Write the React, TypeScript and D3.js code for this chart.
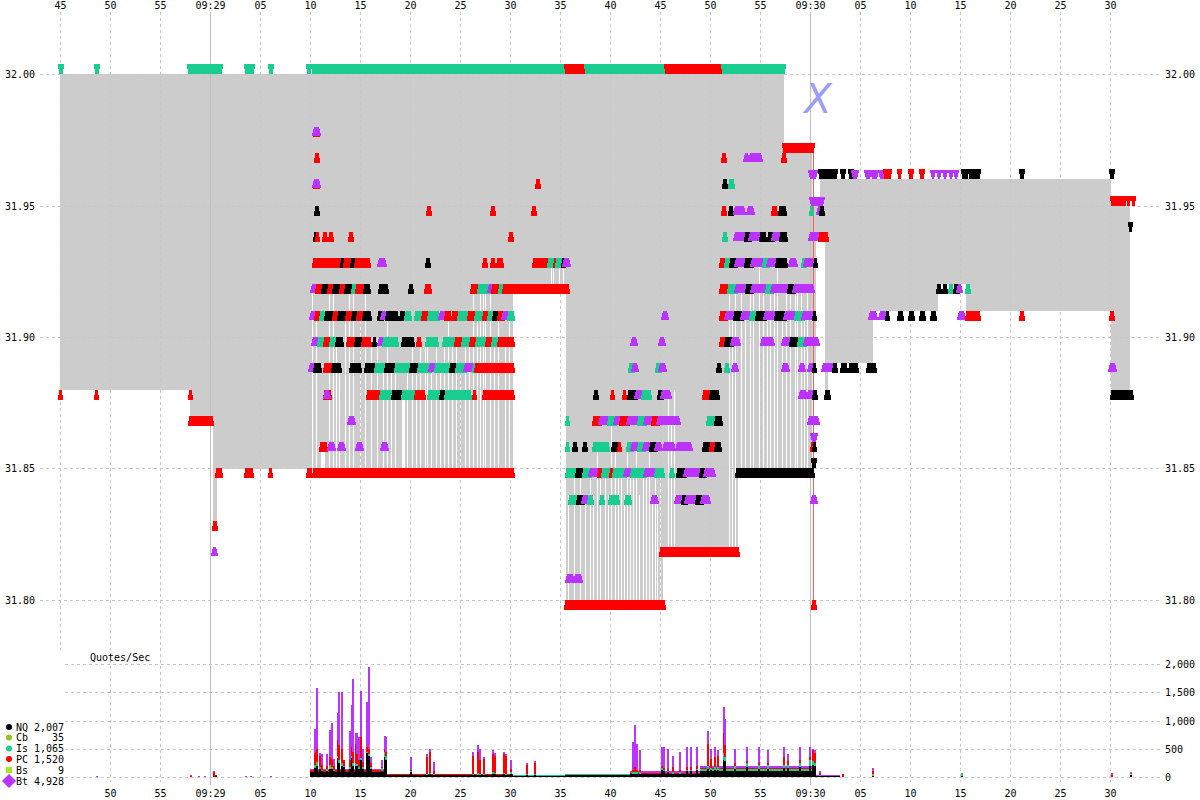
import React from "react";
import * as d3 from "d3";

type Run = [number, number, number, string];

// ---------- static data ----------
const exColors: Record<string, string> = {
  NQ: "#000000",
  Cb: "#94c11f",
  Is: "#19cc8f",
  PC: "#ff0000",
  Bs: "#a8e61d",
  Bt: "#bb33ff",
};
const legendNames = ["NQ", "Cb", "Is", "PC", "Bs", "Bt"];
const legendCounts = ["2,007", "35", "1,065", "1,520", "9", "4,928"];
const priceTicks = [31.8, 31.85, 31.9, 31.95, 32.0];
const qpsTicks = [0, 500, 1000, 1500, 2000];
const timeTicks = [-15, -10, -5, 0, 5, 10, 15, 20, 25, 30, 35, 40, 45, 50, 55, 60, 65, 70, 75, 80, 85, 90];
const minuteMarks = [0, 60];

// NBBO spread segments: [tStart, tEnd, bestBid, bestAsk] (t = seconds after 09:29:00)
const nbboSegments: [number, number, number, number][] = [
  [-15, -2.0, 31.88, 32.0],
  [-2.0, 0.3, 31.87, 32.0],
  [0.3, 0.7, 31.83, 32.0],
  [0.7, 30.3, 31.85, 32.0],
  [30.3, 35.6, 31.92, 32.0],
  [35.6, 45.3, 31.8, 32.0],
  [45.3, 52.8, 31.82, 32.0],
  [52.8, 57.4, 31.85, 32.0],
  [57.4, 60.2, 31.85, 31.97],
  [60.2, 60.6, 31.89, 31.95],
  [60.6, 61.0, 31.94, 31.95],
  [61.0, 61.5, 31.94, 31.96],
  [61.5, 61.8, 31.88, 31.96],
  [61.8, 66.3, 31.89, 31.96],
  [66.3, 72.8, 31.91, 31.96],
  [72.8, 75.6, 31.92, 31.96],
  [75.6, 90.1, 31.91, 31.96],
  [90.1, 92.0, 31.88, 31.95],
];

// momentary best-bid jumps: [tStart, tEnd, bid]
const bidFlickers: [number, number, number][] = [
  [10.2, 10.3, 31.92], [10.6, 10.7, 31.91], [11.1, 11.5, 31.86], [11.9, 12.0, 31.92], [12.3, 12.4, 31.92],
  [12.6, 12.7, 31.9], [12.9, 13.0, 31.89], [13.5, 13.6, 31.91],
  [13.9, 14.0, 31.92], [14.3, 14.4, 31.92], [15.0, 15.1, 31.91], [15.5, 15.6, 31.92], [16.1, 16.2, 31.9],
  [16.7, 16.8, 31.9], [17.3, 17.4, 31.89], [17.7, 17.8, 31.91], [18.1, 18.2, 31.89],
  [18.5, 18.6, 31.89], [19.2, 19.5, 31.88], [19.7, 19.8, 31.89], [20.2, 20.3, 31.9], [20.6, 20.7, 31.89],
  [21.0, 21.1, 31.9], [21.5, 21.6, 31.9], [21.7, 21.8, 31.9],
  [22.1, 22.2, 31.89], [22.6, 22.7, 31.9], [23.0, 23.1, 31.89], [23.4, 23.5, 31.9], [23.8, 23.9, 31.91],
  [24.2, 24.3, 31.9], [24.6, 24.7, 31.9], [25.0, 25.1, 31.89], [25.5, 25.6, 31.9], [25.9, 26.0, 31.9],
  [26.3, 26.4, 31.92], [26.7, 26.8, 31.91], [27.0, 27.1, 31.92], [27.3, 27.4, 31.92], [27.5, 27.6, 31.92],
  [28.0, 28.1, 31.92], [28.4, 28.5, 31.9], [28.8, 28.9, 31.91], [29.5, 29.6, 31.9], [29.9, 30.0, 31.91],
  [34.1, 34.2, 31.93], [34.3, 34.4, 31.93], [34.9, 35.0, 31.93], [35.3, 35.4, 31.93],
  [35.8, 35.9, 31.84], [36.4, 36.5, 31.85], [37.0, 37.1, 31.85], [37.5, 37.6, 31.84], [38.0, 38.1, 31.85],
  [38.3, 38.4, 31.84], [38.7, 38.8, 31.86], [39.0, 39.1, 31.85], [39.5, 39.6, 31.85], [39.8, 39.9, 31.84],
  [40.1, 40.2, 31.87], [40.5, 40.6, 31.86], [40.8, 40.9, 31.85], [41.1, 41.2, 31.85], [41.4, 41.5, 31.84],
  [41.7, 41.8, 31.86], [42.0, 42.1, 31.85], [42.3, 42.4, 31.85], [42.6, 42.7, 31.86], [42.9, 43.0, 31.84],
  [43.3, 43.4, 31.85], [43.6, 43.7, 31.85], [43.9, 44.0, 31.86], [44.2, 44.3, 31.84], [44.5, 44.6, 31.85],
  [44.7, 44.8, 31.84], [45.0, 45.1, 31.85],
  [45.8, 45.9, 31.88], [46.1, 46.2, 31.87], [46.4, 46.5, 31.88], [51.9, 52.0, 31.92], [52.2, 52.3, 31.91],
  [52.5, 52.6, 31.92],
  [53.1, 53.2, 31.92], [53.5, 53.6, 31.91], [54.0, 54.1, 31.92], [54.3, 54.4, 31.92], [54.9, 55.0, 31.93],
  [55.3, 55.4, 31.92], [55.7, 55.8, 31.91], [56.0, 56.1, 31.92], [56.4, 56.5, 31.92], [56.7, 56.8, 31.93],
  [57.2, 57.3, 31.91], [57.6, 57.7, 31.92], [58.0, 58.1, 31.92], [58.5, 58.6, 31.92], [58.7, 58.8, 31.92],
  [59.1, 59.2, 31.92], [59.4, 59.5, 31.91], [59.7, 59.8, 31.92],
];

// ask quotes (drawn above their price): [tStart, tEnd, price, exchange]
const askRuns: Run[] = [
  [-15.1, -14.8, 32.0, "Is"], [-11.5, -11.2, 32.0, "Is"],
  [-2.2, -1.5, 32.0, "Is"], [-1.4, -1.1, 32.0, "Is"], [-1.0, -0.7, 32.0, "Is"], [-0.6, -0.3, 32.0, "Is"],
  [-0.2, 0.1, 32.0, "Is"], [0.2, 1.1, 32.0, "Is"], [3.5, 4.3, 32.0, "Is"], [5.9, 6.2, 32.0, "Is"],
  [9.7, 10.0, 32.0, "Is"], [10.2, 35.5, 32.0, "Is"], [35.5, 37.5, 32.0, "PC"], [37.5, 45.5, 32.0, "Is"],
  [45.5, 51.2, 32.0, "PC"], [51.2, 57.4, 32.0, "Is"],
  [57.3, 60.3, 31.97, "PC"],
  [60.0, 60.5, 31.96, "Bt"], [60.9, 62.6, 31.96, "NQ"], [63.1, 63.4, 31.96, "NQ"], [63.9, 64.2, 31.96, "NQ"],
  [64.3, 64.6, 31.96, "Bt"], [65.6, 65.9, 31.96, "Bt"], [66.2, 66.6, 31.96, "Bt"], [67.0, 67.4, 31.96, "Bt"],
  [67.4, 68.0, 31.96, "PC"], [68.8, 69.0, 31.96, "PC"], [69.9, 70.2, 31.96, "PC"], [71.0, 71.3, 31.96, "PC"],
  [72.2, 72.3, 31.96, "Bt"], [72.8, 72.9, 31.96, "Bt"], [73.4, 73.5, 31.96, "Bt"], [74.0, 74.1, 31.96, "Bt"],
  [74.5, 74.6, 31.96, "Bt"], [75.2, 75.7, 31.96, "NQ"], [75.9, 76.9, 31.96, "NQ"], [81.0, 81.3, 31.96, "NQ"],
  [90.0, 90.3, 31.96, "NQ"],
  [60.1, 61.2, 31.95, "Bt"], [90.1, 91.5, 31.95, "PC"], [91.7, 91.9, 31.95, "PC"], [92.2, 92.4, 31.95, "PC"],
  [91.9, 92.1, 31.94, "NQ"],
  [60.2, 60.5, 31.86, "Bt"], [60.2, 60.5, 31.85, "NQ"],
];

// bid quotes (drawn below their price): [tStart, tEnd, price, exchange]
const bidRuns: Run[] = [
  // 09:28:45 - 09:29:10
  [-15.1, -14.9, 31.88, "PC"], [-11.5, -11.3, 31.88, "PC"], [-2.1, -1.9, 31.88, "PC"],
  [-2.1, 0.2, 31.87, "PC"],
  [0.3, 0.6, 31.83, "PC"], [0.3, 0.5, 31.82, "Bt"],
  [0.6, 1.1, 31.85, "PC"], [3.5, 4.2, 31.85, "PC"], [5.9, 6.1, 31.85, "PC"],
  // 09:29:10 - 09:29:36
  [10.4, 10.8, 31.98, "PC"], [10.4, 10.8, 31.98, "Bt"],
  [10.5, 10.8, 31.97, "PC"],
  [10.4, 10.8, 31.96, "PC"], [10.4, 10.8, 31.96, "Bt"], [32.6, 32.9, 31.96, "PC"],
  [10.5, 10.8, 31.95, "NQ"], [21.7, 22.0, 31.95, "PC"], [28.1, 28.4, 31.95, "PC"], [32.2, 32.5, 31.95, "PC"],
  [10.4, 10.6, 31.94, "NQ"], [10.6, 10.8, 31.94, "PC"], [11.3, 11.6, 31.94, "PC"], [11.9, 12.2, 31.94, "PC"],
  [13.9, 14.2, 31.94, "PC"], [29.9, 30.2, 31.94, "PC"],
  [10.3, 13.1, 31.93, "PC"], [13.1, 13.4, 31.93, "NQ"], [13.4, 14.1, 31.93, "PC"], [14.1, 14.5, 31.93, "NQ"],
  [14.5, 15.9, 31.93, "PC"], [16.9, 17.4, 31.93, "Bt"], [21.6, 21.9, 31.93, "NQ"], [27.3, 27.6, 31.93, "PC"],
  [28.1, 28.4, 31.93, "PC"], [28.7, 29.2, 31.93, "PC"], [32.3, 33.8, 31.93, "PC"], [33.8, 34.4, 31.93, "Is"],
  [34.4, 34.6, 31.93, "PC"], [34.6, 35.1, 31.93, "Is"], [35.2, 35.4, 31.93, "NQ"], [35.4, 35.8, 31.93, "Bt"],
  [10.2, 10.6, 31.92, "Bt"], [10.6, 11.2, 31.92, "PC"], [11.2, 11.8, 31.92, "NQ"], [11.8, 12.3, 31.92, "PC"],
  [12.3, 13.0, 31.92, "NQ"], [13.0, 13.5, 31.92, "PC"], [13.5, 14.2, 31.92, "NQ"], [14.2, 14.6, 31.92, "Is"],
  [14.6, 15.4, 31.92, "PC"], [15.4, 15.9, 31.92, "NQ"], [16.9, 17.7, 31.92, "NQ"], [19.9, 20.2, 31.92, "NQ"],
  [21.5, 22.0, 31.92, "PC"], [26.1, 26.8, 31.92, "PC"], [26.8, 27.9, 31.92, "Is"], [27.9, 28.2, 31.92, "Bt"],
  [28.2, 28.9, 31.92, "PC"], [28.9, 29.3, 31.92, "Is"], [29.3, 29.7, 31.92, "PC"], [29.7, 35.8, 31.92, "PC"],
  [10.1, 10.5, 31.91, "Bt"], [10.5, 11.0, 31.91, "PC"], [11.0, 11.5, 31.91, "Is"], [11.5, 12.3, 31.91, "NQ"],
  [12.3, 12.8, 31.91, "PC"], [12.8, 13.6, 31.91, "NQ"], [13.6, 14.2, 31.91, "PC"], [14.2, 14.7, 31.91, "NQ"],
  [14.7, 15.3, 31.91, "PC"], [15.3, 16.0, 31.91, "NQ"], [16.8, 17.2, 31.91, "NQ"], [17.2, 17.6, 31.91, "Bt"],
  [17.6, 18.7, 31.91, "NQ"], [19.0, 19.5, 31.91, "NQ"], [19.5, 20.0, 31.91, "Is"], [20.5, 21.2, 31.91, "Is"],
  [21.2, 21.8, 31.91, "PC"], [21.8, 22.8, 31.91, "Is"], [23.0, 23.5, 31.91, "Bt"], [23.5, 24.0, 31.91, "PC"],
  [24.2, 24.8, 31.91, "PC"], [24.8, 25.8, 31.91, "Is"], [25.8, 26.5, 31.91, "PC"], [26.5, 27.3, 31.91, "Is"],
  [27.3, 27.8, 31.91, "PC"], [27.8, 28.3, 31.91, "Is"], [28.3, 28.8, 31.91, "NQ"], [28.8, 29.3, 31.91, "PC"],
  [29.3, 29.8, 31.91, "Bt"], [29.8, 30.3, 31.91, "Is"],
  [10.3, 10.8, 31.9, "Bt"], [10.8, 11.4, 31.9, "Is"], [11.4, 12.0, 31.9, "PC"], [12.0, 12.6, 31.9, "Is"],
  [12.6, 13.2, 31.9, "NQ"], [13.7, 14.5, 31.9, "PC"], [14.5, 15.2, 31.9, "NQ"], [15.2, 16.0, 31.9, "PC"],
  [16.3, 16.5, 31.9, "NQ"], [16.9, 17.3, 31.9, "Bt"], [17.3, 18.7, 31.9, "Is"], [19.2, 20.3, 31.9, "NQ"],
  [20.7, 21.0, 31.9, "PC"], [21.6, 22.7, 31.9, "Is"], [23.3, 24.5, 31.9, "Is"], [24.5, 25.2, 31.9, "PC"],
  [25.2, 26.0, 31.9, "Is"], [26.0, 26.6, 31.9, "PC"], [26.6, 27.6, 31.9, "Is"], [27.6, 28.2, 31.9, "PC"],
  [28.2, 28.8, 31.9, "Is"], [28.8, 30.3, 31.9, "PC"],
  [10.0, 10.4, 31.89, "Bt"], [10.4, 11.0, 31.89, "NQ"], [11.4, 12.2, 31.89, "PC"], [12.2, 13.0, 31.89, "NQ"],
  [14.0, 15.0, 31.89, "NQ"], [15.5, 16.5, 31.89, "NQ"], [16.5, 17.5, 31.89, "Is"], [17.5, 18.5, 31.89, "NQ"],
  [18.5, 20.0, 31.89, "Is"], [20.0, 20.8, 31.89, "NQ"], [20.8, 22.0, 31.89, "Is"], [22.0, 22.5, 31.89, "Bt"],
  [22.5, 24.0, 31.89, "Is"], [24.0, 24.6, 31.89, "NQ"], [24.6, 25.5, 31.89, "Is"], [25.5, 26.3, 31.89, "Bt"],
  [26.3, 26.5, 31.89, "Is"], [26.5, 30.3, 31.89, "PC"],
  [11.4, 12.0, 31.88, "PC"], [11.5, 11.8, 31.88, "Bt"], [15.7, 17.0, 31.88, "PC"], [17.0, 18.2, 31.88, "Is"],
  [18.2, 19.2, 31.88, "NQ"], [19.2, 20.5, 31.88, "Is"], [20.5, 21.4, 31.88, "PC"], [21.8, 23.0, 31.88, "Is"],
  [23.0, 23.5, 31.88, "NQ"], [23.5, 26.0, 31.88, "Is"], [26.3, 26.5, 31.88, "PC"], [27.3, 30.3, 31.88, "PC"],
  [13.9, 14.3, 31.87, "Bt"],
  [11.0, 11.6, 31.86, "PC"], [11.9, 12.3, 31.86, "Bt"], [12.9, 13.3, 31.86, "Bt"], [14.7, 15.1, 31.86, "Bt"],
  [17.2, 17.6, 31.86, "Bt"],
  [9.7, 10.1, 31.85, "PC"], [10.3, 30.3, 31.85, "PC"],
  // 09:29:35 - 09:29:46
  [45.3, 45.6, 31.91, "Bt"],
  [42.2, 42.5, 31.9, "Bt"], [45.0, 45.3, 31.9, "Bt"],
  [41.9, 42.3, 31.89, "Is"], [42.3, 42.6, 31.89, "Bt"], [44.6, 45.0, 31.89, "Is"], [45.0, 45.4, 31.89, "Bt"],
  [38.4, 38.7, 31.88, "NQ"], [40.1, 40.3, 31.88, "PC"], [41.3, 41.5, 31.88, "PC"], [41.8, 42.6, 31.88, "NQ"],
  [42.6, 43.2, 31.88, "Bt"], [43.2, 44.0, 31.88, "Is"], [44.8, 45.2, 31.88, "NQ"], [45.2, 45.9, 31.88, "Bt"],
  [49.3, 50.0, 31.88, "PC"], [50.0, 50.8, 31.88, "NQ"],
  [35.6, 35.8, 31.87, "Is"], [38.3, 39.0, 31.87, "PC"], [39.0, 39.8, 31.87, "Bt"], [39.8, 40.5, 31.87, "Is"],
  [40.5, 41.0, 31.87, "Bt"], [41.0, 41.8, 31.87, "PC"], [41.8, 42.8, 31.87, "Bt"], [42.8, 43.5, 31.87, "Is"],
  [43.5, 44.2, 31.87, "Bt"], [44.2, 44.8, 31.87, "PC"], [44.8, 46.8, 31.87, "Bt"], [49.7, 50.5, 31.87, "Is"],
  [50.5, 51.1, 31.87, "NQ"],
  [35.6, 35.8, 31.86, "Is"], [36.3, 36.6, 31.86, "NQ"], [37.3, 37.6, 31.86, "NQ"], [38.3, 39.8, 31.86, "Is"],
  [40.2, 40.8, 31.86, "NQ"], [40.8, 41.0, 31.86, "PC"], [41.7, 42.2, 31.86, "Is"], [42.2, 42.8, 31.86, "Bt"],
  [42.8, 43.4, 31.86, "Is"], [43.4, 44.0, 31.86, "Bt"], [44.0, 44.6, 31.86, "NQ"], [44.6, 45.0, 31.86, "Bt"],
  [45.4, 46.3, 31.86, "Bt"], [46.7, 48.0, 31.86, "Bt"], [49.3, 50.0, 31.86, "NQ"], [50.0, 50.5, 31.86, "PC"],
  [50.5, 51.0, 31.86, "NQ"],
  [35.6, 36.6, 31.85, "Is"], [36.6, 37.3, 31.85, "NQ"], [37.3, 38.0, 31.85, "Is"], [38.0, 38.8, 31.85, "Bt"],
  [38.8, 39.2, 31.85, "PC"], [39.2, 40.0, 31.85, "Is"], [40.0, 40.3, 31.85, "PC"], [40.3, 41.5, 31.85, "Is"],
  [41.5, 42.1, 31.85, "Bt"], [42.1, 43.5, 31.85, "Is"], [43.5, 44.5, 31.85, "Bt"], [44.5, 45.3, 31.85, "Is"],
  [46.0, 46.3, 31.85, "Is"], [46.7, 47.5, 31.85, "NQ"], [47.5, 49.0, 31.85, "Bt"], [49.0, 49.5, 31.85, "NQ"],
  [49.5, 50.3, 31.85, "Bt"],
  [35.9, 36.7, 31.84, "Is"], [36.7, 37.3, 31.84, "NQ"], [37.3, 37.8, 31.84, "Bt"], [37.8, 38.2, 31.84, "Is"],
  [39.0, 39.3, 31.84, "Is"], [39.9, 40.8, 31.84, "Is"], [41.5, 42.0, 31.84, "Is"], [44.2, 44.6, 31.84, "Bt"],
  [46.6, 47.2, 31.84, "Bt"], [47.2, 47.6, 31.84, "NQ"], [47.6, 48.6, 31.84, "Bt"], [48.6, 49.2, 31.84, "NQ"],
  [49.2, 49.8, 31.84, "Bt"],
  [35.7, 36.2, 31.81, "Bt"], [36.5, 37.0, 31.81, "Bt"],
  [35.5, 45.4, 31.8, "PC"],
  [45.0, 52.8, 31.82, "PC"],
  // 09:29:51 - 09:30:01
  [51.2, 51.5, 31.97, "PC"], [53.5, 53.7, 31.97, "Bt"], [54.0, 55.0, 31.97, "Bt"], [57.2, 57.5, 31.97, "PC"],
  [51.3, 51.6, 31.96, "NQ"], [51.9, 52.3, 31.96, "Is"],
  [51.2, 51.5, 31.95, "PC"], [51.9, 52.2, 31.95, "NQ"], [52.5, 53.3, 31.95, "Bt"], [53.8, 54.2, 31.95, "Bt"],
  [56.2, 56.6, 31.95, "PC"], [56.9, 57.5, 31.95, "NQ"], [60.0, 60.2, 31.95, "Is"], [60.8, 61.0, 31.95, "Bt"],
  [61.0, 61.3, 31.95, "NQ"],
  [51.3, 51.6, 31.94, "Is"], [52.5, 53.5, 31.94, "Bt"], [53.5, 54.0, 31.94, "NQ"], [54.0, 55.0, 31.94, "Bt"],
  [55.0, 55.5, 31.94, "NQ"], [55.8, 56.3, 31.94, "NQ"], [56.3, 57.0, 31.94, "Bt"], [57.0, 57.6, 31.94, "NQ"],
  [60.0, 60.8, 31.94, "Bt"], [60.9, 61.7, 31.94, "PC"],
  [51.0, 51.5, 31.93, "PC"], [51.5, 52.0, 31.93, "Is"], [52.0, 52.6, 31.93, "NQ"], [52.6, 53.5, 31.93, "Bt"],
  [53.5, 54.2, 31.93, "NQ"], [54.2, 55.3, 31.93, "Bt"], [55.3, 55.8, 31.93, "Is"], [55.8, 56.6, 31.93, "Bt"],
  [56.6, 57.6, 31.93, "NQ"], [58.0, 58.5, 31.93, "Bt"], [59.2, 59.5, 31.93, "Is"], [59.5, 60.2, 31.93, "Bt"],
  [60.4, 60.6, 31.93, "NQ"],
  [51.0, 51.8, 31.92, "PC"], [51.8, 52.6, 31.92, "Is"], [52.6, 53.6, 31.92, "Bt"], [53.6, 54.2, 31.92, "NQ"],
  [54.2, 55.6, 31.92, "Bt"], [55.6, 56.2, 31.92, "Is"], [56.2, 57.8, 31.92, "Bt"], [57.8, 58.4, 31.92, "NQ"],
  [58.4, 60.2, 31.92, "Bt"],
  [51.0, 51.6, 31.91, "PC"], [51.6, 52.4, 31.91, "Bt"], [52.4, 53.2, 31.91, "NQ"], [53.2, 54.0, 31.91, "Bt"],
  [54.0, 54.6, 31.91, "Is"], [54.6, 55.5, 31.91, "NQ"], [55.5, 56.5, 31.91, "Bt"], [56.5, 57.5, 31.91, "NQ"],
  [57.5, 58.5, 31.91, "Bt"], [58.5, 59.3, 31.91, "Is"], [59.3, 60.3, 31.91, "Bt"], [60.3, 60.5, 31.91, "NQ"],
  [51.0, 51.5, 31.9, "PC"], [51.5, 52.2, 31.9, "NQ"], [52.2, 52.8, 31.9, "Bt"], [55.2, 56.2, 31.9, "Bt"],
  [57.3, 58.0, 31.9, "Bt"], [58.0, 58.8, 31.9, "NQ"], [58.8, 59.5, 31.9, "Is"], [59.5, 60.7, 31.9, "Bt"],
  [50.7, 51.0, 31.89, "NQ"], [51.5, 51.8, 31.89, "Is"], [52.3, 52.6, 31.89, "Bt"], [57.3, 57.7, 31.89, "Bt"],
  [59.0, 59.3, 31.89, "Bt"], [59.9, 60.3, 31.89, "Bt"], [60.3, 60.5, 31.89, "NQ"],
  [59.0, 59.5, 31.88, "Bt"], [59.8, 60.3, 31.88, "Bt"], [60.3, 60.6, 31.88, "NQ"], [61.5, 61.9, 31.88, "NQ"],
  [59.9, 60.7, 31.87, "Bt"],
  [60.1, 60.5, 31.86, "PC"], [60.3, 60.5, 31.86, "NQ"],
  [52.6, 60.3, 31.85, "NQ"],
  [60.2, 60.5, 31.84, "Bt"],
  [60.2, 60.5, 31.8, "PC"],
  // after 09:30
  [66.0, 66.5, 31.91, "Bt"], [67.0, 67.6, 31.91, "Bt"], [67.6, 67.8, 31.91, "NQ"], [68.8, 69.2, 31.91, "NQ"],
  [69.9, 70.3, 31.91, "NQ"], [71.0, 71.4, 31.91, "NQ"], [72.1, 72.5, 31.91, "NQ"], [74.9, 75.3, 31.91, "Bt"],
  [75.6, 76.9, 31.91, "PC"], [81.0, 81.3, 31.91, "PC"], [90.0, 90.3, 31.91, "PC"],
  [72.7, 73.0, 31.92, "NQ"], [73.3, 73.6, 31.92, "NQ"], [73.9, 74.2, 31.92, "Is"], [74.4, 74.8, 31.92, "NQ"],
  [74.8, 75.0, 31.92, "Bt"], [75.6, 75.9, 31.92, "Is"],
  [61.3, 62.2, 31.89, "Bt"], [62.3, 62.6, 31.89, "NQ"], [63.1, 63.6, 31.89, "NQ"], [63.9, 64.7, 31.89, "NQ"],
  [65.7, 66.5, 31.89, "NQ"], [90.0, 90.4, 31.89, "Bt"],
  [90.1, 92.2, 31.88, "NQ"],
];

// trade print line: [t, low, high]
const tradeLine: [number, number, number] = [60.27, 31.8, 31.97];

// quotes/sec background activity: [tStart, tEnd, NQ, Cb, Is, PC, Bs, Bt]
const qpsFloor: [number, number, number, number, number, number, number, number][] = [
  [10.0, 17.7, 80, 0, 15, 30, 0, 20],
  [17.7, 30.3, 35, 0, 8, 8, 0, 8],
  [30.3, 35.5, 20, 0, 15, 0, 0, 5],
  [35.5, 42.0, 35, 0, 15, 0, 0, 10],
  [42.0, 49.0, 45, 0, 15, 10, 0, 30],
  [49.0, 60.5, 110, 0, 30, 20, 0, 30],
  [60.5, 63.0, 10, 0, 10, 5, 0, 5],
];

// quotes/sec spikes: [t, NQ, Cb, Is, PC, Bs, Bt]
const qpsBars: [number, number, number, number, number, number, number][] = [
  [-11.4, 0, 0, 0, 0, 0, 15], [-2.0, 0, 0, 0, 20, 0, 20], [-1.2, 0, 0, 0, 0, 0, 15], [-0.6, 0, 0, 0, 0, 0, 15],
  [0.3, 0, 0, 0, 80, 0, 20], [0.5, 20, 0, 0, 20, 0, 0], [3.5, 0, 0, 0, 0, 0, 20], [4.0, 0, 0, 0, 0, 0, 20],
  [6.0, 0, 0, 0, 0, 0, 15],
  [10.4, 160, 0, 60, 200, 0, 425], [10.6, 200, 0, 60, 240, 0, 1080], [10.9, 150, 0, 30, 200, 0, 50],
  [11.1, 100, 0, 30, 80, 0, 190], [11.55, 100, 20, 20, 60, 0, 200], [11.9, 150, 30, 40, 130, 0, 480],
  [12.1, 150, 0, 30, 140, 0, 630], [12.3, 100, 0, 20, 80, 0, 120], [12.65, 340, 0, 40, 275, 0, 485],
  [12.8, 250, 0, 50, 260, 0, 940], [13.05, 200, 0, 40, 260, 0, 1000], [13.3, 180, 0, 20, 100, 0, 0],
  [13.9, 150, 0, 30, 120, 0, 520], [14.05, 330, 0, 40, 155, 0, 750], [14.15, 200, 0, 40, 210, 0, 1285],
  [14.5, 200, 0, 40, 350, 0, 195], [14.65, 200, 0, 30, 170, 0, 385], [14.8, 150, 0, 30, 120, 0, 400],
  [14.95, 300, 0, 40, 370, 0, 820], [15.2, 150, 0, 20, 100, 0, 230], [15.6, 430, 0, 20, 80, 0, 800],
  [15.75, 380, 0, 30, 90, 0, 1450], [15.95, 150, 0, 20, 80, 0, 100], [17.1, 100, 0, 60, 20, 0, 120],
  [17.35, 350, 0, 100, 50, 0, 225], [17.5, 300, 0, 80, 60, 0, 260], [20.0, 80, 0, 20, 20, 0, 230],
  [21.6, 40, 0, 20, 300, 0, 40], [21.9, 50, 0, 20, 380, 0, 50], [22.3, 40, 0, 10, 60, 0, 150],
  [26.2, 40, 0, 20, 320, 0, 60], [26.65, 40, 0, 30, 380, 0, 110], [26.9, 40, 0, 20, 240, 0, 200],
  [27.25, 40, 0, 20, 250, 0, 40], [28.2, 50, 0, 30, 330, 0, 70], [28.4, 50, 0, 20, 310, 0, 40],
  [29.25, 50, 0, 20, 340, 0, 30], [29.45, 40, 0, 20, 320, 0, 20], [30.0, 60, 0, 20, 60, 0, 160],
  [31.6, 40, 0, 20, 150, 0, 40], [32.35, 40, 0, 20, 180, 0, 40],
  [42.2, 60, 0, 30, 40, 0, 495], [42.4, 60, 0, 30, 80, 0, 750], [42.6, 60, 0, 30, 30, 0, 470],
  [42.9, 60, 0, 30, 30, 0, 350], [45.1, 120, 0, 40, 40, 0, 330], [45.3, 100, 0, 30, 30, 0, 370],
  [45.65, 80, 0, 30, 30, 0, 360], [46.2, 60, 0, 30, 80, 0, 210], [46.9, 60, 0, 30, 40, 0, 310],
  [47.6, 100, 0, 30, 40, 0, 360], [48.0, 100, 0, 30, 40, 0, 360], [48.6, 120, 0, 30, 40, 0, 340],
  [49.75, 150, 0, 50, 380, 0, 240], [50.0, 120, 0, 40, 150, 0, 190], [50.4, 130, 0, 40, 180, 0, 180],
  [50.65, 130, 0, 40, 200, 0, 100], [51.25, 300, 0, 120, 360, 0, 465], [51.4, 280, 0, 80, 210, 0, 455],
  [52.4, 150, 0, 50, 50, 0, 250], [53.6, 180, 0, 60, 40, 0, 250], [54.8, 150, 0, 60, 40, 0, 280],
  [55.7, 150, 0, 60, 40, 0, 230], [57.3, 160, 0, 60, 130, 0, 180], [57.7, 160, 0, 60, 60, 0, 120],
  [58.9, 180, 0, 60, 60, 0, 230], [59.9, 200, 0, 100, 60, 0, 170], [60.2, 220, 0, 60, 200, 0, 20],
  [60.4, 200, 0, 50, 180, 0, 50], [60.9, 30, 0, 10, 30, 0, 30],
  [63.2, 0, 0, 0, 60, 0, 0], [66.2, 20, 20, 20, 40, 0, 60], [75.1, 20, 20, 30, 0, 0, 0],
  [90.1, 0, 0, 0, 30, 0, 40], [92.0, 30, 0, 0, 0, 30, 30],
];

const histKeys = ["NQ", "Cb", "Is", "PC", "Bs", "Bt"];

const fmtTick = (s: number) => {
  const m = ((s % 60) + 60) % 60;
  if (m === 0) return s === 0 ? "09:29" : "09:30";
  return String(m).padStart(2, "0");
};

export default function App() {
  const x = d3.scaleLinear().domain([-15, 95]).range([60, 1160]);
  const yP = d3.scaleLinear().domain([31.8, 32.0]).range([600, 74]);
  const yQ = d3.scaleLinear().domain([0, 2000]).range([777, 664]);
  const gridColor = "#c8c8c8";

  const bidAt = (t: number) => {
    const seg = nbboSegments.find((s) => t >= s[0] && t < s[1]);
    return seg ? seg[2] : 31.85;
  };

  const renderRun = (r: Run, side: "bid" | "ask", key: string) => {
    const [t0, t1, p, ex] = r;
    const xa = Math.round(x(t0));
    const xb = Math.max(Math.round(x(t1)), xa);
    const yp = Math.round(yP(p));
    const c = exColors[ex];
    const w = xb - xa + 1;
    if (ex === "Bt") {
      if (side === "bid") {
        return (
          <g key={key} fill={c}>
            <rect x={xa} y={yp} width={w} height={3} />
            <polygon points={`${xa - 0.5},${yp + 2} ${xb + 1.5},${yp + 2} ${xb + 3},${yp + 8} ${xa - 2},${yp + 8}`} />
            <rect x={xa - 2} y={yp + 8} width={w + 4} height={1} />
          </g>
        );
      }
      return (
        <g key={key} fill={c}>
          <rect x={xa} y={yp - 3} width={w} height={3} />
          <polygon points={`${xa - 0.5},${yp - 2} ${xb + 1.5},${yp - 2} ${xb + 3},${yp - 8} ${xa - 2},${yp - 8}`} />
          <rect x={xa - 2} y={yp - 9} width={w + 4} height={1} />
        </g>
      );
    }
    if (side === "bid") {
      return (
        <g key={key} fill={c}>
          <rect x={xa} y={yp} width={w} height={5} />
          <rect x={xa - 1} y={yp + 5} width={w + 2} height={5} />
        </g>
      );
    }
    return (
      <g key={key} fill={c}>
        <rect x={xa - 1} y={yp - 10} width={w + 2} height={5} />
        <rect x={xa} y={yp - 5} width={w} height={5} />
      </g>
    );
  };

  const barData = qpsBars.map((b) => ({ t: b[0], NQ: b[1], Cb: b[2], Is: b[3], PC: b[4], Bs: b[5], Bt: b[6] }));
  const floorData = qpsFloor.map((b) => ({ t0: b[0], t1: b[1], NQ: b[2], Cb: b[3], Is: b[4], PC: b[5], Bs: b[6], Bt: b[7] }));
  const stack = d3.stack<any>().keys(histKeys);
  const barStack = stack(barData as any);
  const floorStack = stack(floorData as any);

  const legendRowY = [730.5, 741, 752, 762.5, 773.5, 784.5];

  return (
    <svg
      width={1200}
      height={800}
      style={{ position: "absolute", left: 0, top: 0, background: "#fff" }}
      fontFamily="'DejaVu Sans Mono', monospace"
      fontSize={10}
      shapeRendering="crispEdges"
    >
      <rect width={1200} height={800} fill="#ffffff" />

      {/* spread area */}
      {nbboSegments.map(([t0, t1, b, a], i) => (
        <rect key={"s" + i} x={x(t0)} y={yP(a)} width={x(t1) - x(t0)} height={yP(b) - yP(a)} fill="#cccccc" />
      ))}
      {bidFlickers.map(([t0, t1, lv], i) => {
        const b = bidAt(t0);
        return <rect key={"f" + i} x={x(t0)} y={yP(lv)} width={x(t1) - x(t0)} height={yP(b) - yP(lv)} fill="#ffffff" />;
      })}

      {/* grid */}
      {priceTicks.map((p) => (
        <line key={"hp" + p} x1={40} x2={1160} y1={Math.round(yP(p)) + 0.5} y2={Math.round(yP(p)) + 0.5} stroke={gridColor} strokeDasharray="3,3" />
      ))}
      {qpsTicks.map((v) => (
        <line key={"hq" + v} x1={65} x2={1160} y1={Math.round(yQ(v)) + 0.5} y2={Math.round(yQ(v)) + 0.5} stroke={gridColor} strokeDasharray="3,3" />
      ))}
      {timeTicks.filter((t) => !minuteMarks.includes(t)).map((t) => (
        <line key={"v" + t} x1={x(t) + 0.5} x2={x(t) + 0.5} y1={12} y2={t === -15 ? 650 : 782} stroke={gridColor} strokeDasharray="3,3" />
      ))}
      {minuteMarks.map((t) => (
        <line key={"m" + t} x1={x(t) + 0.5} x2={x(t) + 0.5} y1={12} y2={785} stroke="#c0c0c0" />
      ))}

      {/* trade line */}
      <line x1={x(tradeLine[0]) + 0.5} x2={x(tradeLine[0]) + 0.5} y1={yP(tradeLine[2])} y2={yP(tradeLine[1]) + 10} stroke="#ff5a5a" />

      {/* quotes */}
      {askRuns.map((r, i) => renderRun(r, "ask", "a" + i))}
      {bidRuns.map((r, i) => renderRun(r, "bid", "b" + i))}

      {/* halt marker */}
      <text x={818} y={113} fontSize={40} fontStyle="italic" fontFamily="'DejaVu Sans', sans-serif" fill="#9d9df5" textAnchor="middle" shapeRendering="auto">
        X
      </text>

      {/* histogram */}
      {floorStack.map((layer: any) => (
        <g key={"fl" + layer.key} fill={exColors[layer.key]}>
          {layer.map((d: any, i: number) =>
            d[1] > d[0] ? (
              <rect key={i} x={x(d.data.t0)} width={x(d.data.t1) - x(d.data.t0)} y={yQ(d[1])} height={yQ(d[0]) - yQ(d[1])} />
            ) : null
          )}
        </g>
      ))}
      {barStack.map((layer: any) => (
        <g key={"br" + layer.key} fill={exColors[layer.key]}>
          {layer.map((d: any, i: number) =>
            d[1] > d[0] ? (
              <rect key={i} x={Math.round(x(d.data.t))} width={2} y={yQ(d[1])} height={Math.max(1, yQ(d[0]) - yQ(d[1]))} />
            ) : null
          )}
        </g>
      ))}

      {/* axis labels */}
      {timeTicks.map((t) => (
        <text key={"tt" + t} x={x(t) + 0.5} y={9} textAnchor="middle" fill="#000">
          {fmtTick(t)}
        </text>
      ))}
      {timeTicks.filter((t) => t > -15).map((t) => (
        <text key={"tb" + t} x={x(t) + 0.5} y={797} textAnchor="middle" fill="#000">
          {fmtTick(t)}
        </text>
      ))}
      {priceTicks.map((p) => (
        <g key={"pl" + p}>
          <text x={35} y={Math.round(yP(p)) + 4} textAnchor="end" fill="#000">
            {p.toFixed(2)}
          </text>
          <text x={1165} y={Math.round(yP(p)) + 4} textAnchor="start" fill="#000">
            {p.toFixed(2)}
          </text>
        </g>
      ))}
      {qpsTicks.map((v) => (
        <text key={"ql" + v} x={1165} y={Math.round(yQ(v)) + 4} textAnchor="start" fill="#000">
          {d3.format(",")(v)}
        </text>
      ))}
      <text x={90} y={661} fill="#000">Quotes/Sec</text>

      {/* legend */}
      {legendNames.map((n, i) => {
        const cy = legendRowY[i] - 3.5;
        const c = exColors[n];
        let mark;
        if (n === "Bs") mark = <rect x={6} y={cy - 3} width={6} height={6} fill={c} />;
        else if (n === "Bt")
          mark = <polygon points={`9,${cy - 7} 16,${cy} 9,${cy + 7} 2,${cy}`} fill={c} shapeRendering="auto" />;
        else mark = <circle cx={9} cy={cy} r={3} fill={c} shapeRendering="auto" />;
        return (
          <g key={"lg" + n}>
            {mark}
            <text x={16} y={legendRowY[i]} fill="#000">{n}</text>
            <text x={64} y={legendRowY[i]} textAnchor="end" fill="#000">{legendCounts[i]}</text>
          </g>
        );
      })}
    </svg>
  );
}
